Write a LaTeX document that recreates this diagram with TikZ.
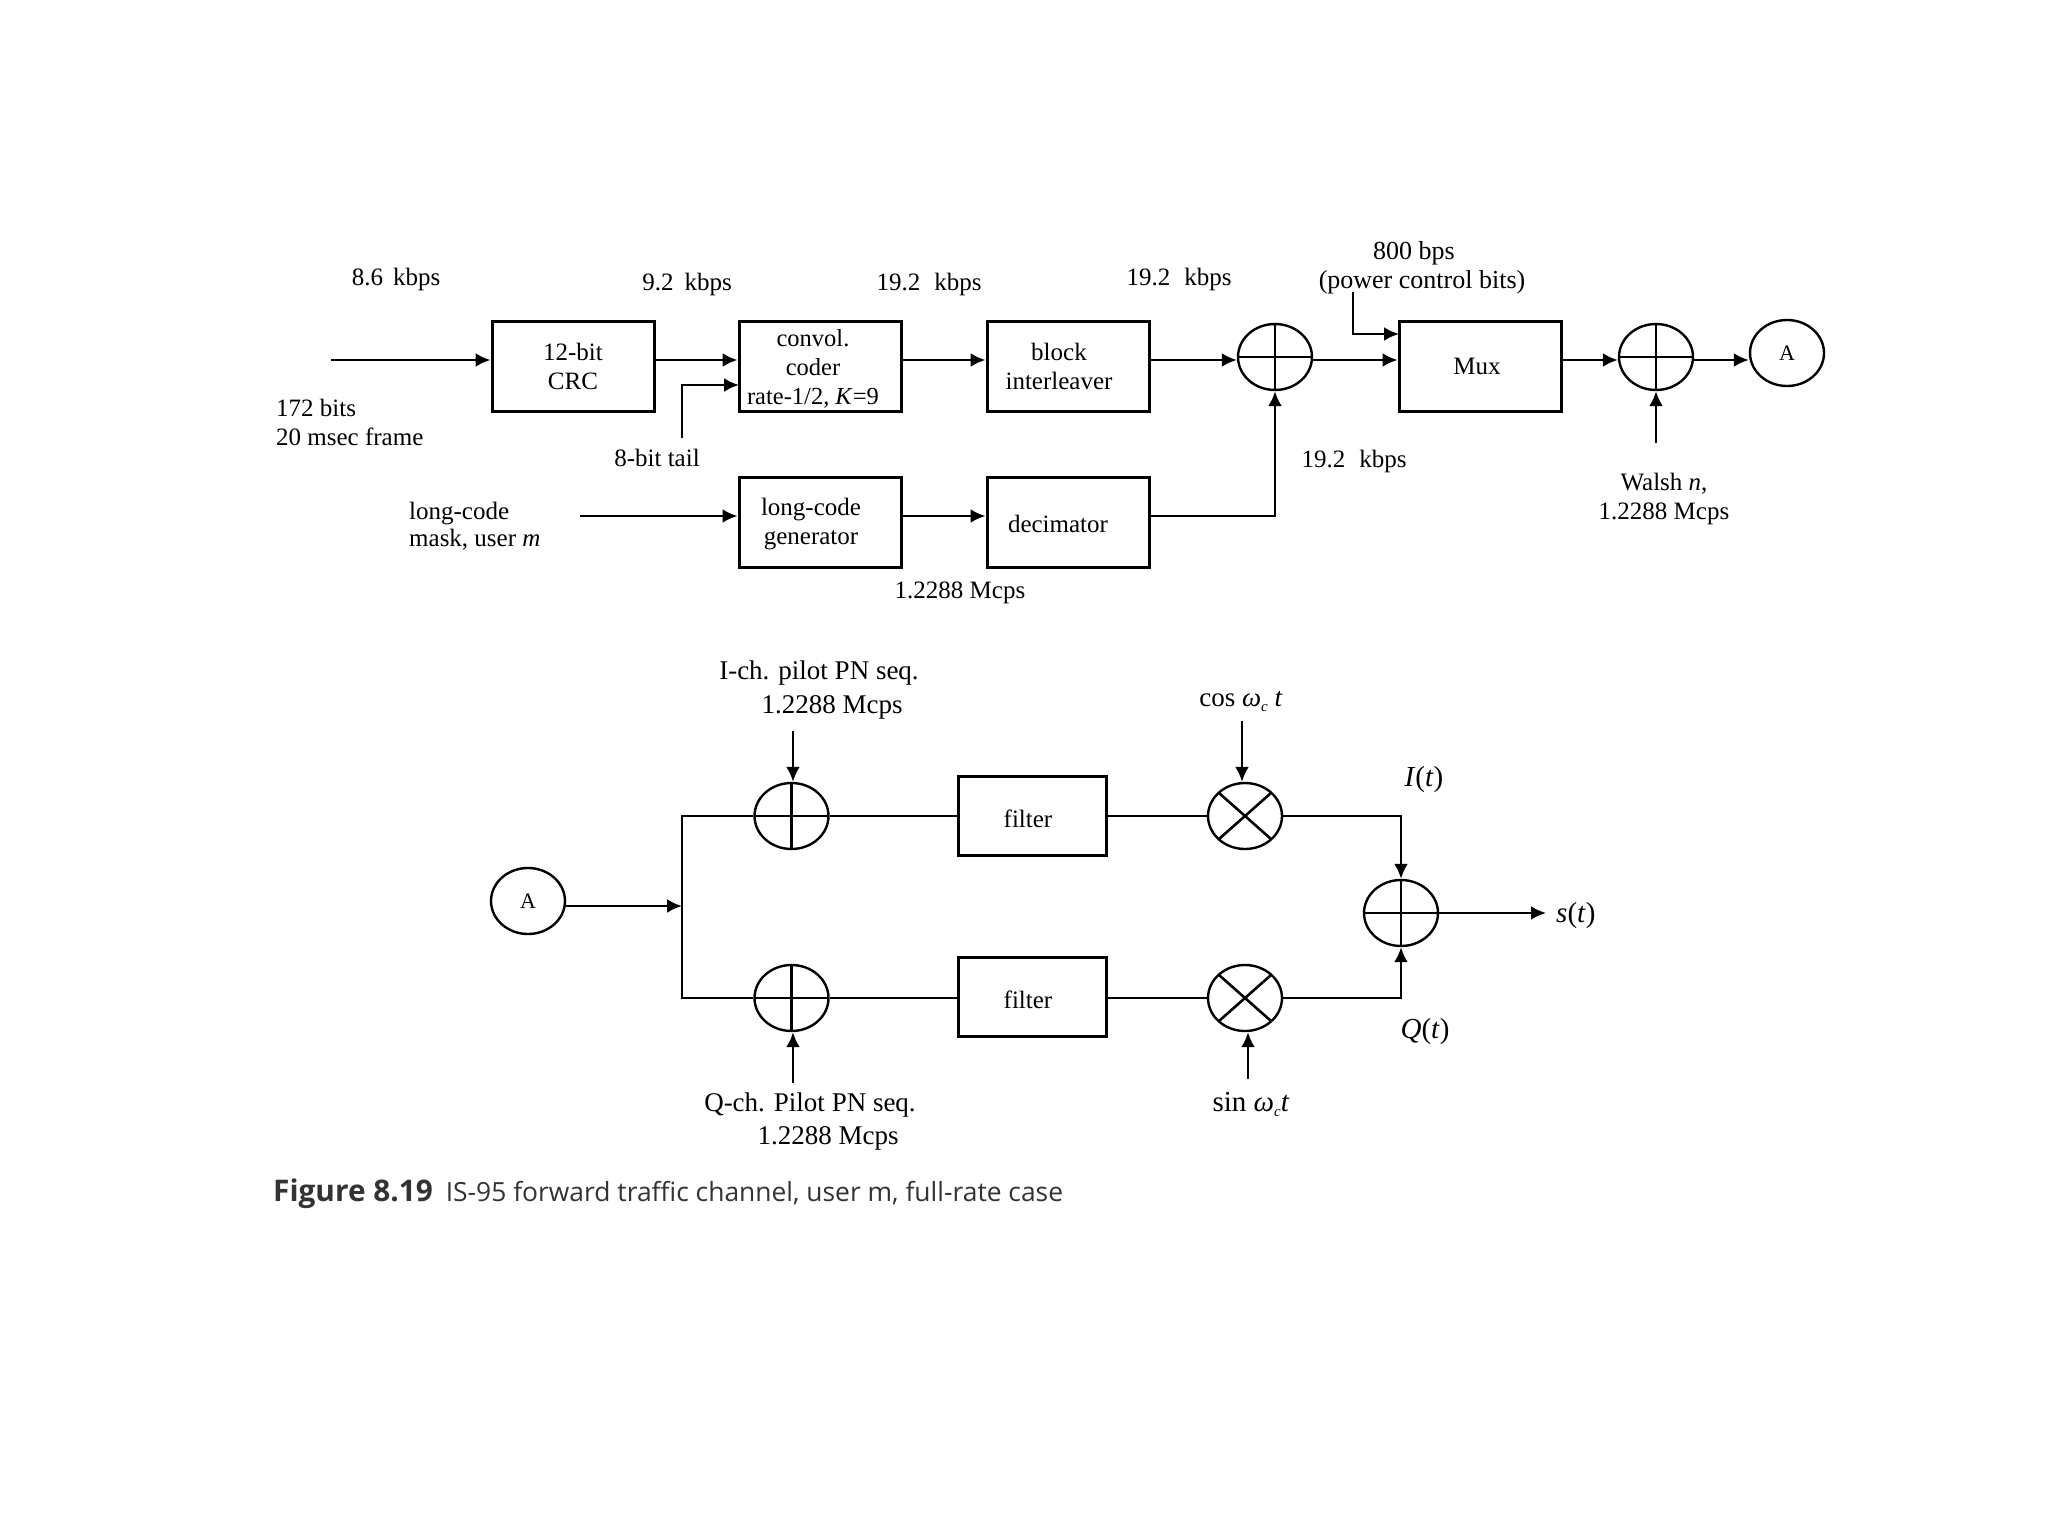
\documentclass[tikz,border=0pt]{standalone}
\usepackage{fontspec}
\setmainfont{Liberation Serif}
\newfontfamily\capfont{Open Sans}
\usetikzlibrary{arrows.meta,shapes.geometric}
\newcommand{\omc}{\textit{ω}\raisebox{-5pt}{\fontsize{15}{15}\selectfont\itshape c}}
\tikzset{
  every node/.style={font=\fontsize{25}{29}\selectfont},
  wire/.style={line width=2.6pt},
  flow/.style={wire,-{Latex[length=15pt,width=14pt]}},
  blockbox/.style={draw,line width=3pt,minimum width=162pt,minimum height=90pt,inner sep=0pt},
  filterbox/.style={blockbox,minimum width=148pt,minimum height=79pt},
  boxtext/.style={align=center,inner sep=0pt},
  lbl/.style={inner sep=0pt,align=center,yshift=-2.5pt},
  lbllow/.style={lbl,font=\fontsize{27}{27}\selectfont},
  lblwide/.style={lbl,font=\fontsize{26}{29}\selectfont},
  lblmath/.style={lbl,font=\fontsize{29}{29}\selectfont},
  lblleft/.style={inner sep=0pt,align=left,anchor=west},
  circ/.style={ellipse,draw,line width=2.4pt,minimum width=74pt,minimum height=66pt,inner sep=0pt},
  addnode/.style={circ,path picture={\draw[wire]
     (path picture bounding box.west) -- (path picture bounding box.east)
     (path picture bounding box.north) -- (path picture bounding box.south);}},
  mulnode/.style={circ,path picture={\draw[wire]
     ([shift={(-26pt,-23pt)}]path picture bounding box.center) -- ([shift={(26pt,23pt)}]path picture bounding box.center)
     ([shift={(-26pt,23pt)}]path picture bounding box.center) -- ([shift={(26pt,-23pt)}]path picture bounding box.center);}},
}
\begin{document}
\begin{tikzpicture}[x=1pt,y=-1pt]
\useasboundingbox (0,0) rectangle (2048,1536);
% --- upper chain ---
\coordinate (rowA) at (0,360);
\coordinate (rowB) at (0,516);
\node[blockbox,label={[boxtext]center:{12-bit\\CRC}}] (crc) at (573,366) {};
\node[blockbox,label={[boxtext,xshift=-7pt,yshift=-2.5pt,font=\fontsize{24.5}{29}\selectfont]center:{convol.\\coder\\rate-1/2, \textit{K}=9}}] (conv) at (820,366) {};
\node[blockbox,label={[boxtext,xshift=-9pt]center:{block\\interleaver}}] (intl) at (1068,366) {};
\node[blockbox,label={[boxtext,xshift=-3pt]center:{Mux}}] (mux) at (1480,366) {};
\node[blockbox,label={[boxtext,xshift=-9pt,yshift=-2.5pt]center:{long-code\\generator}}] (lcg) at (820,522) {};
\node[blockbox,label={[boxtext,xshift=-10pt,yshift=-2pt]center:{decimator}}] (deci) at (1068,522) {};
\node[addnode] (sumA) at (1275,357) {};
\node[addnode] (sumB) at (1656,357) {};
\node[circ] (outA) at (1787,353) {\fontsize{22}{22}\selectfont A};
\coordinate (inA) at (331,360);
\coordinate (tail) at (682,438);
\coordinate (tailIn) at (739,385);
\coordinate (pwr) at (1353,292);
\coordinate (pwrIn) at (1399,334);
\coordinate (walshEnd) at (1656,443);
\coordinate (maskEnd) at (580,516);
\draw[flow] (inA) -- (crc.west |- rowA);
\draw[flow] (crc.east |- rowA) -- (conv.west |- rowA);
\draw[flow] (tail) |- (tailIn);
\draw[flow] (conv.east |- rowA) -- (intl.west |- rowA);
\draw[flow] (intl.east |- rowA) -- (sumA.west |- rowA);
\draw[flow] (sumA.east |- rowA) -- (mux.west |- rowA);
\draw[flow] (pwr) |- (pwrIn);
\draw[flow] (mux.east |- rowA) -- (sumB.west |- rowA);
\draw[flow] (sumB.east |- rowA) -- (outA.west |- rowA);
\draw[flow] (walshEnd) -- (sumB.south);
\draw[flow] (maskEnd) -- (lcg.west |- rowB);
\draw[flow] (lcg.east |- rowB) -- (deci.west |- rowB);
\draw[flow] (deci.east |- rowB) -| (sumA.south);
% --- upper labels ---
\node[lbl] (r1) at (396,277) {8.6\hspace{10pt}kbps};
\node[lbl] (r2) at (687,282) {9.2\hspace{11pt}kbps};
\node[lbl] (r3) at (929,282) {19.2\hspace{14pt}kbps};
\node[lbl] (r4) at (1179,277) {19.2\hspace{14pt}kbps};
\node[lblwide] (r5) at (1414,251) {800 bps};
\node[lblwide] (r6) at (1422,280) {(power control bits)};
\node[lblleft] (bits) at (276,422) {172 bits\\20 msec frame};
\node[lbl] (tl) at (657,455) {8-bit tail};
\node[lblleft,font=\fontsize{25}{26.5}\selectfont] (mask) at (409,526) {long-code\\mask, user \textit{m}};
\node[lbl] (mc1) at (960,590) {1.2288 Mcps};
\node[lbl] (r7) at (1354,459) {19.2\hspace{14pt}kbps};
\node[lbl] (wal) at (1664,496) {Walsh \textit{n},\\1.2288 Mcps};
% --- lower chain ---
\node[circ] (inB) at (528,901) {\fontsize{22}{22}\selectfont A};
\coordinate (fork) at (682,906);
\coordinate (upY) at (682,816);
\coordinate (loY) at (682,998);
\node[addnode] (xI) at (791.5,816) {};
\node[addnode] (xQ) at (791.5,998) {};
\node[filterbox,label={[boxtext,xshift=-4pt,yshift=-2.5pt]center:{filter}}] (fI) at (1032,816) {};
\node[filterbox,label={[boxtext,xshift=-4pt,yshift=-2.5pt]center:{filter}}] (fQ) at (1032,997) {};
\node[mulnode] (mI) at (1245,816) {};
\node[mulnode] (mQ) at (1245,998) {};
\node[addnode] (sumS) at (1401,913) {};
\coordinate (iPN) at (793,731);
\coordinate (qPN) at (793,1083);
\coordinate (cosE) at (1242,721);
\coordinate (sinE) at (1248,1079);
\coordinate (outS) at (1546,913);
\draw[flow] (inB.east |- fork) -- (fork);
\draw[wire] (xI.west) -- (upY) -- (loY) -- (xQ.west);
\draw[wire] (xI.east) -- (fI.west);
\draw[wire] (xQ.east) -- (fQ.west |- xQ.east);
\draw[wire] (fI.east) -- (mI.west);
\draw[wire] (fQ.east |- mQ.west) -- (mQ.west);
\draw[flow] (mI.east) -| (sumS.north);
\draw[flow] (mQ.east) -| (sumS.south);
\draw[flow] (sumS.east) -- (outS);
\draw[flow] (iPN) -- (iPN |- xI.north);
\draw[flow] (qPN) -- (qPN |- xQ.south);
\draw[flow] (cosE) -- (cosE |- mI.north);
\draw[flow] (sinE) -- (sinE |- mQ.south);
% --- lower labels ---
\node[lbllow] (ipil) at (819,671) {I-ch. pilot PN seq.};
\node[lbllow] (imc) at (832,705) {1.2288 Mcps};
\node[lbllow] (qpil) at (810,1102) {Q-ch. Pilot PN seq.};
\node[lbllow] (qmc) at (828,1136) {1.2288 Mcps};
\node[lbl,font=\fontsize{27}{27}\selectfont] (cosl) at (1241,699) {cos \omc\ \textit{t}};
\node[lbl,font=\fontsize{29}{29}\selectfont] (sinl) at (1251,1102) {sin \omc\textit{t}};
\node[lblmath] (il) at (1424,777) {\textit{I}(\textit{t})};
\node[lblmath] (ql) at (1425,1029) {\textit{Q}(\textit{t})};
\node[lblmath,anchor=west] (sl) at (1556,913) {\textit{s}(\textit{t})};
% --- caption ---
\node[inner sep=0pt,anchor=west,font=\capfont\fontsize{26.4}{26.4}\selectfont,text=black!80,yshift=-3pt] (cap) at (273,1191)
  {{\fontsize{29.8}{29.8}\selectfont\textbf{Figure 8.19}}\hspace{13pt}IS-95 forward traffic channel, user m, full-rate case};
\end{tikzpicture}
\end{document}
